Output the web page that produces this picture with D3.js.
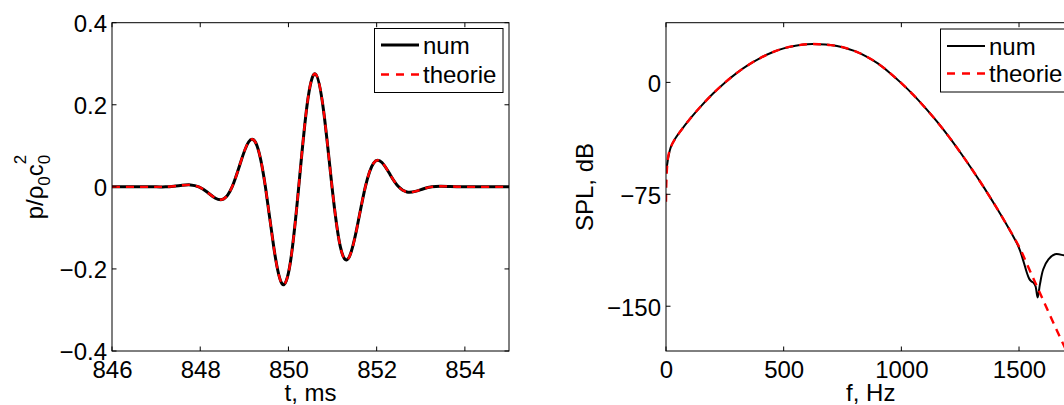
<!DOCTYPE html>
<html>
<head>
<meta charset="utf-8">
<script src="https://cdn.jsdelivr.net/npm/d3@7"></script>
<style>
  html, body { margin: 0; padding: 0; background: #fff; overflow: hidden; }
  svg { display: block; }
  text { font-family: "Liberation Sans", Arial, Helvetica, sans-serif; fill: #000; }
</style>
</head>
<body>
<svg id="chart" width="1064" height="405"></svg>
<script>
// ---------- data: left panel (time signal) ----------
const tTicks = [846, 848, 850, 852, 854];
const pTicks = [-0.4, -0.2, 0, 0.2, 0.4];
const pTickLabels = ["\u22120.4", "\u22120.2", "0", "0.2", "0.4"];
const tNum = [846.0, 846.5, 847.0, 847.212, 847.401, 847.59, 847.779, 847.968, 848.156, 848.345, 848.534, 848.723, 848.911, 849.1, 849.289, 849.478, 849.666, 849.855, 850.044, 850.233, 850.421, 850.61, 850.799, 850.988, 851.176, 851.365, 851.554, 851.743, 851.931, 852.12, 852.309, 852.498, 852.686, 852.875, 853.064, 853.253, 853.441, 853.63, 853.819, 854.008, 854.5, 855.0];
const pNum = [0, 0, 0, 0, 0.0015, 0.0038, 0.0047, 0, -0.0126, -0.0277, -0.0293, 0, 0.0583, 0.1099, 0.0997, 0, -0.1461, -0.2362, -0.1837, 0, 0.1982, 0.275, 0.1835, 0, -0.1458, -0.1735, -0.0993, 0, 0.0581, 0.0593, 0.0291, 0, -0.0125, -0.0110, -0.0046, 0, 0.0015, 0.0011, 0.0004, 0, 0, 0];
const tTheorie = [846.0, 846.5, 847.0, 847.212, 847.401, 847.59, 847.779, 847.968, 848.156, 848.345, 848.534, 848.723, 848.911, 849.1, 849.289, 849.478, 849.666, 849.855, 850.044, 850.233, 850.421, 850.61, 850.799, 850.988, 851.176, 851.365, 851.554, 851.743, 851.931, 852.12, 852.309, 852.498, 852.686, 852.875, 853.064, 853.253, 853.441, 853.63, 853.819, 854.008, 854.5, 855.0];
const pTheorie = [0, 0, 0, 0, 0.0015, 0.0038, 0.0047, 0, -0.0126, -0.0277, -0.0293, 0, 0.0583, 0.1100, 0.0998, 0, -0.1462, -0.2364, -0.1838, 0, 0.1984, 0.2755, 0.1837, 0, -0.1459, -0.1736, -0.0994, 0, 0.0581, 0.0593, 0.0291, 0, -0.0125, -0.0110, -0.0046, 0, 0.0015, 0.0011, 0.0004, 0, 0, 0];

// ---------- data: right panel (spectrum) ----------
const fTicks = [0, 500, 1000, 1500];
const splTicks = [-150, -75, 0];
const splTickLabels = ["\u2212150", "\u221275", "0"];
const fNum = [0, 5, 10, 20, 40, 60, 100, 150, 200, 250, 300, 350, 400, 450, 500, 550, 600, 650, 700, 750, 800, 850, 900, 950, 1000, 1050, 1100, 1150, 1200, 1250, 1300, 1350, 1400, 1450, 1490, 1504, 1520, 1533, 1543, 1552, 1561, 1570, 1579, 1589, 1603, 1625, 1653, 1691, 1740];
const splNum = [-59, -55, -50, -43.5, -37.5, -33, -24.8, -15.7, -7.5, -0.2, 6.2, 11.7, 16.3, 20.0, 22.8, 24.6, 25.6, 25.6, 25.0, 23.6, 21.1, 17.5, 12.7, 6.5, -0.5, -8.2, -16.8, -26.0, -36.0, -46.8, -58.2, -70.2, -82.8, -96.0, -107.5, -112.5, -120.5, -127.4, -131.5, -133.2, -134.2, -136.5, -144.1, -135.2, -125.2, -118.6, -115.2, -115.9, -118];
const fTheorie = [0, 1, 3, 6, 10, 20, 40, 60, 100, 150, 200, 250, 300, 350, 400, 450, 500, 550, 600, 650, 700, 750, 800, 850, 900, 950, 1000, 1050, 1100, 1150, 1200, 1250, 1300, 1350, 1400, 1450, 1500, 1550, 1600, 1650, 1700, 1750];
const splTheorie = [-80, -70, -61, -54, -49, -43.5, -37.5, -33, -24.8, -15.7, -7.5, -0.2, 6.2, 11.7, 16.3, 20.0, 22.8, 24.6, 25.6, 25.6, 25.0, 23.6, 21.1, 17.5, 12.7, 6.5, -0.5, -8.2, -16.8, -26.0, -36.0, -46.8, -58.2, -70.2, -82.8, -96.0, -110.0, -127.5, -145.0, -162.5, -179.5, -196.5];

const legendLabels = ["num", "theorie"];

// ---------- drawing ----------
const svg = d3.select("#chart");
const FONT = 24;
const TICK = 4.5;

function panel(cfg) {
  const x = d3.scaleLinear().domain(cfg.xDomain).range([cfg.x0, cfg.x1]);
  const y = d3.scaleLinear().domain(cfg.yDomain).range([cfg.y1, cfg.y0]);
  const g = svg.append("g");

  const clipId = "clip" + cfg.id;
  svg.append("clipPath").attr("id", clipId).append("rect")
    .attr("x", cfg.x0).attr("y", cfg.y0)
    .attr("width", cfg.x1 - cfg.x0).attr("height", cfg.y1 - cfg.y0);

  // series
  const lineNum = d3.line().x((d, i) => x(cfg.xNum[i])).y(d => y(d)).curve(cfg.curve);
  const lineTh = d3.line().x((d, i) => x(cfg.xTh[i])).y(d => y(d)).curve(cfg.curve);
  const lines = g.append("g").attr("clip-path", `url(#${clipId})`);
  lines.append("path").attr("d", lineNum(cfg.yNum))
    .attr("fill", "none").attr("stroke", "#000").attr("stroke-width", cfg.numWidth)
    .attr("stroke-linejoin", "round");
  lines.append("path").attr("d", lineTh(cfg.yTh))
    .attr("fill", "none").attr("stroke", "#ff0000").attr("stroke-width", 2.4)
    .attr("stroke-dasharray", "8,6");

  // frame
  g.append("rect").attr("x", cfg.x0).attr("y", cfg.y0)
    .attr("width", cfg.x1 - cfg.x0).attr("height", cfg.y1 - cfg.y0)
    .attr("fill", "none").attr("stroke", "#000").attr("stroke-width", 1);

  // inward ticks on all four sides
  const tk = g.append("g").attr("stroke", "#000").attr("stroke-width", 1);
  cfg.xTicks.forEach(v => {
    tk.append("line").attr("x1", x(v)).attr("x2", x(v)).attr("y1", cfg.y1).attr("y2", cfg.y1 - TICK);
    tk.append("line").attr("x1", x(v)).attr("x2", x(v)).attr("y1", cfg.y0).attr("y2", cfg.y0 + TICK);
  });
  cfg.yTicks.forEach(v => {
    tk.append("line").attr("x1", cfg.x0).attr("x2", cfg.x0 + TICK).attr("y1", y(v)).attr("y2", y(v));
    tk.append("line").attr("x1", cfg.x1).attr("x2", cfg.x1 - TICK).attr("y1", y(v)).attr("y2", y(v));
  });

  // tick labels via d3 axes
  const ax = g.append("g").attr("transform", `translate(0,${cfg.y1})`)
    .call(d3.axisBottom(x).tickValues(cfg.xTicks).tickSize(0).tickPadding(10).tickFormat(d3.format("d")));
  ax.select(".domain").remove();
  ax.selectAll("text").attr("font-size", FONT).attr("font-family", null).attr("fill", "#000");
  const ay = g.append("g").attr("transform", `translate(${cfg.x0},0)`)
    .call(d3.axisLeft(y).tickValues(cfg.yTicks).tickSize(0).tickPadding(5)
      .tickFormat((d, i) => cfg.yTickLabels[i]));
  ay.select(".domain").remove();
  ay.selectAll("text").attr("font-size", FONT).attr("font-family", null).attr("fill", "#000").attr("dy", "0.37em");

  // x label
  g.append("text")
    .attr("x", x((cfg.xDomain[0] + cfg.xDomain[1]) / 2))
    .attr("y", 401).attr("text-anchor", "middle").attr("font-size", FONT).text(cfg.xLabel);

  // legend
  const lg = g.append("g");
  lg.append("rect").attr("x", cfg.leg.x).attr("y", cfg.leg.y).attr("width", cfg.leg.w).attr("height", cfg.leg.h)
    .attr("fill", "#fff").attr("stroke", "#000").attr("stroke-width", 1);
  legendLabels.forEach((lab, i) => {
    const ly = cfg.leg.rows[i];
    const ln = lg.append("line").attr("x1", cfg.leg.x + 6.5).attr("x2", cfg.leg.x + 44.5)
      .attr("y1", ly).attr("y2", ly);
    if (i === 0) ln.attr("stroke", "#000").attr("stroke-width", cfg.numWidth);
    else ln.attr("stroke", "#ff0000").attr("stroke-width", 2.4).attr("stroke-dasharray", "8,7");
    lg.append("text").attr("x", cfg.leg.x + 48.5).attr("y", ly + 8.5).attr("font-size", FONT).text(lab);
  });
  return { x, y, g };
}

// left panel
panel({
  id: "L", x0: 112, x1: 509, y0: 22.7, y1: 351,
  xDomain: [846, 855], yDomain: [-0.4, 0.4],
  xTicks: tTicks, yTicks: pTicks, yTickLabels: pTickLabels,
  xNum: tNum, yNum: pNum, xTh: tTheorie, yTh: pTheorie,
  numWidth: 3, xLabel: "t, ms", curve: d3.curveNatural,
  leg: { x: 374.5, y: 28.5, w: 128.5, h: 64, rows: [45, 74.5] }
});

// y label left: p/ρ0c0^2
const yl = svg.append("text").attr("transform", "translate(43,187) rotate(-90)")
  .attr("text-anchor", "middle").attr("font-size", FONT);
yl.append("tspan").text("p/\u03c1");
yl.append("tspan").attr("font-size", 17).attr("dy", 7).text("0");
yl.append("tspan").attr("dy", -7).text("c");
yl.append("tspan").attr("font-size", 17).attr("dy", 7).text("0");
yl.append("tspan").attr("font-size", 17).attr("dx", -9.4).attr("dy", -24).text("2");

// right panel
panel({
  id: "R", x0: 666, x1: 1075.5, y0: 22.7, y1: 351,
  xDomain: [0, 1740], yDomain: [-180, 40],
  xTicks: fTicks, yTicks: splTicks, yTickLabels: splTickLabels,
  xNum: fNum, yNum: splNum, xTh: fTheorie, yTh: splTheorie,
  numWidth: 2, xLabel: "f, Hz", curve: d3.curveCatmullRom.alpha(0.5),
  leg: { x: 940.5, y: 29, w: 128.5, h: 63, rows: [46, 73.5] }
});

svg.append("text").attr("transform", "translate(593,187) rotate(-90)")
  .attr("text-anchor", "middle").attr("font-size", FONT).text("SPL, dB");
</script>
</body>
</html>
